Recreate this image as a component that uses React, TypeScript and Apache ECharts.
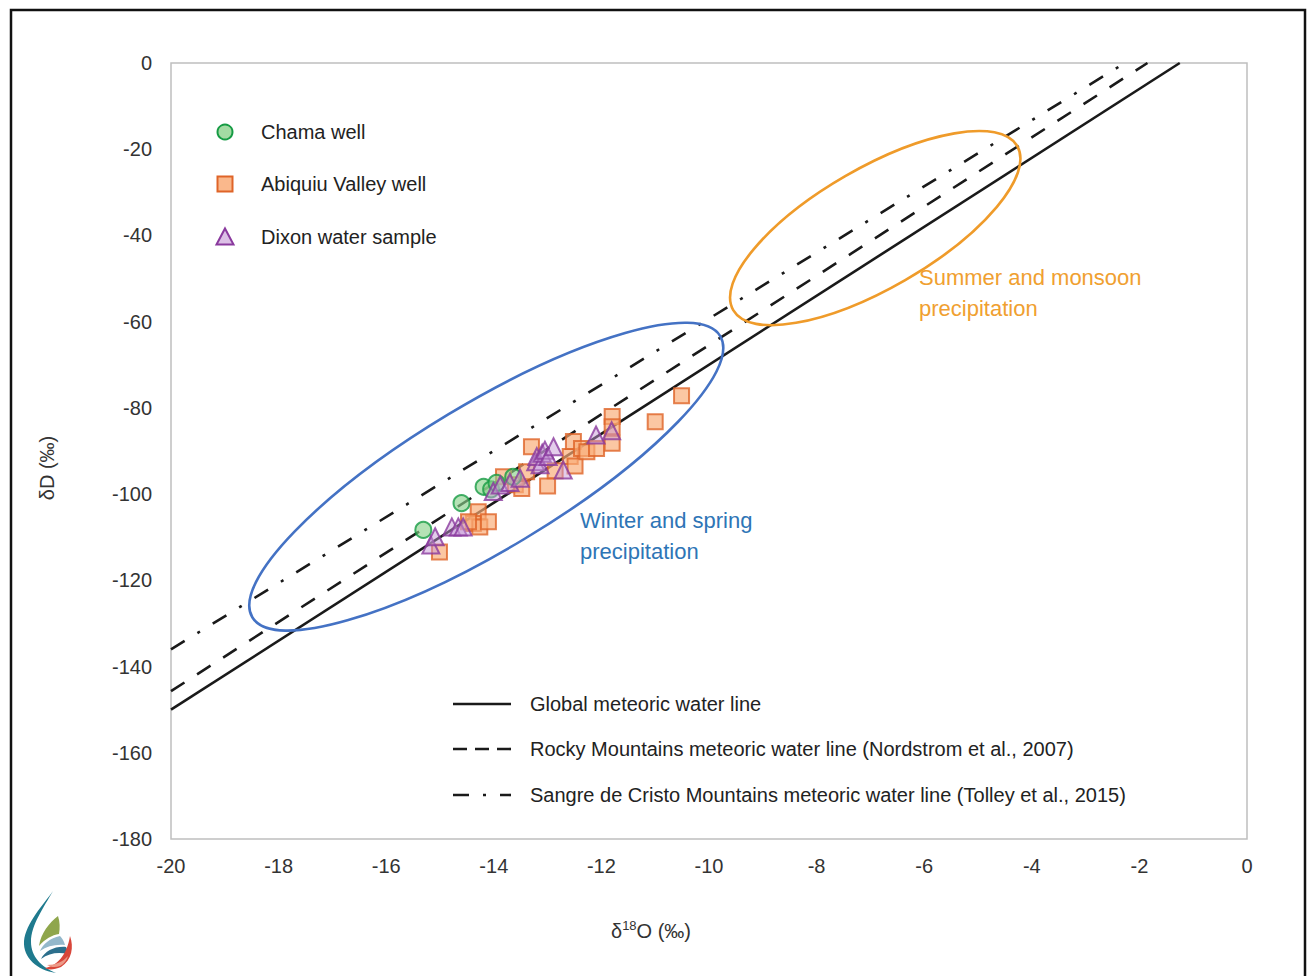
import React, { useEffect, useRef } from 'react';
import * as echarts from 'echarts';

// ---- data (δ18O, δD in ‰) ----
const chamaWell: number[][] = [
  [-15.31, -108.3], [-14.6, -102.1], [-14.19, -98.3], [-14.05, -98.9], [-13.95, -97.4], [-13.64, -96.0],
];
const abiquiuWell: number[][] = [
  [-15.01, -113.4], [-14.29, -104.1], [-14.38, -106.8], [-14.26, -107.6], [-14.1, -106.4], [-14.47, -106.4],
  [-13.82, -96.0], [-13.6, -97.8], [-13.48, -98.7], [-13.39, -94.8], [-13.3, -89.0], [-13.0, -98.1],
  [-12.86, -94.6], [-12.58, -91.3], [-12.52, -87.8], [-12.49, -93.5], [-12.37, -89.4], [-12.27, -90.2],
  [-12.09, -89.4], [-11.8, -82.0], [-11.8, -84.4], [-11.8, -88.2], [-11.0, -83.2], [-10.51, -77.2],
];
const dixonSample: number[][] = [
  [-15.17, -111.8], [-15.09, -109.9], [-14.78, -107.6], [-14.66, -107.6], [-14.57, -107.6],
  [-14.01, -99.4], [-13.88, -97.9], [-13.7, -97.3], [-13.51, -96.3],
  [-13.22, -92.5], [-13.2, -91.3], [-13.14, -93.2], [-13.1, -90.5], [-13.05, -89.8], [-12.99, -91.3],
  [-12.89, -89.0], [-12.71, -94.4], [-12.1, -86.3], [-11.81, -85.3],
];
// meteoric water lines (end points)
const globalMWL: number[][] = [[-20, -150], [-1.25, 0]];
const rockyMWL: number[][] = [[-20, -145.7], [-1.85, 0]];
const sangreMWL: number[][] = [[-20, -136.0], [-2.27, 0]];

const seriesNames = ['Chama well', 'Abiquiu Valley well', 'Dixon water sample'];
const lineNames = [
  'Global meteoric water line',
  'Rocky Mountains meteoric water line (Nordstrom et al., 2007)',
  'Sangre de Cristo Mountains meteoric water line (Tolley et al., 2015)',
];
const xRange = [-20, 0, 2];
const yRange = [-180, 0, 20];
// ellipse centres in data coordinates
const winterCentre = [-14.14, -95.96];
const summerCentre = [-6.91, -38.3];

const FONT = '"Liberation Sans", Arial, sans-serif';
const GREEN_FILL = 'rgba(140,210,140,0.8)';
const GREEN_LINE = '#169B44';
const ORANGE_FILL = 'rgba(249,172,120,0.85)';
const ORANGE_LINE = '#DF6428';
const PURPLE_FILL = 'rgba(196,150,214,0.6)';
const PURPLE_LINE = '#8A3A9E';

echarts.graphic.registerShape(
  'logoTeal',
  echarts.graphic.extendPath(
    'M34,2 C24,16 7,34 5,52 C4,69 18,81 37,84 C22,78 12,67 12,53 C12,36 25,18 34,2 Z',
    {}
  )
);
echarts.graphic.registerShape(
  'logoGreen',
  echarts.graphic.extendPath('M39,27 C30,34 22,44 20,57 C26,50 33,46 40,45 C41,39 41,33 39,27 Z', {})
);
echarts.graphic.registerShape(
  'logoLightBlue',
  echarts.graphic.extendPath('M41,47 C31,49 24,55 21,62 C28,57 37,55 46,56 C45,52 43,49 41,47 Z', {})
);
echarts.graphic.registerShape(
  'logoBlue',
  echarts.graphic.extendPath('M47,58 C36,57 26,62 22,70 C30,64 39,63 49,65 C49,62 48,60 47,58 Z', {})
);
echarts.graphic.registerShape(
  'logoRed',
  echarts.graphic.extendPath('M51,47 C55,58 53,71 42,78 C35,81 29,81 26,79 C38,77 48,66 51,47 Z', {})
);
echarts.graphic.registerShape(
  'logoPink',
  echarts.graphic.extendPath('M49,67 C44,73 36,76 28,76 C31,78 36,79 41,77 C45,75 48,71 49,67 Z', {})
);

export default function App() {
  const ref = useRef<HTMLDivElement>(null);

  useEffect(() => {
    if (!ref.current) return;
    const chart = echarts.init(ref.current, undefined, { renderer: 'svg' });
    const lineBase = { type: 'line', showSymbol: false, symbol: 'none', silent: true, z: 2 };
    chart.setOption({
      animation: false,
      backgroundColor: '#ffffff',
      grid: {
        left: 171, top: 63, width: 1076, height: 776,
        show: true, borderColor: '#BFBFBF', borderWidth: 1.5, backgroundColor: 'transparent',
      },
      xAxis: {
        type: 'value', min: xRange[0], max: xRange[1], interval: xRange[2],
        axisLine: { show: false }, axisTick: { show: false }, splitLine: { show: false },
        axisLabel: { color: '#333', fontSize: 20, fontFamily: FONT, margin: 17 },
        name: '{n|δ}{s|18}{n|O (‰)}',
        nameLocation: 'middle', nameGap: 80,
        nameTextStyle: {
          padding: [0, 116, 0, 0],
          rich: {
            n: { fontSize: 20, fontFamily: FONT, color: '#333', lineHeight: 24 },
            s: { fontSize: 13, fontFamily: FONT, color: '#333', verticalAlign: 'top', lineHeight: 24, padding: [0, 0, 8, 0] },
          },
        },
      },
      yAxis: {
        type: 'value', min: yRange[0], max: yRange[1], interval: yRange[2],
        axisLine: { show: false }, axisTick: { show: false }, splitLine: { show: false },
        axisLabel: { color: '#333', fontSize: 20, fontFamily: FONT, margin: 19 },
        name: 'δD (‰)', nameLocation: 'middle', nameRotate: 90, nameGap: 114,
        nameTextStyle: { fontSize: 20, fontFamily: FONT, color: '#333', padding: [0, 34, 0, 0] },
      },
      series: [
        { ...lineBase, name: lineNames[0], data: globalMWL, lineStyle: { color: '#1a1a1a', width: 2.6, type: 'solid' } },
        { ...lineBase, name: lineNames[1], data: rockyMWL, lineStyle: { color: '#1a1a1a', width: 2.6, type: [16, 15], cap: 'butt' } },
        { ...lineBase, name: lineNames[2], data: sangreMWL, lineStyle: { color: '#1a1a1a', width: 2.6, type: [16, 15, 3, 15], cap: 'butt' } },
        {
          type: 'scatter', name: seriesNames[1], data: abiquiuWell, symbol: 'rect', symbolSize: 15, z: 3,
          itemStyle: { color: ORANGE_FILL, borderColor: ORANGE_LINE, borderWidth: 2 },
        },
        {
          type: 'scatter', name: seriesNames[0], data: chamaWell, symbol: 'circle', symbolSize: 16, z: 4,
          itemStyle: { color: GREEN_FILL, borderColor: GREEN_LINE, borderWidth: 2 },
        },
        {
          type: 'scatter', name: seriesNames[2], data: dixonSample, symbol: 'triangle', symbolSize: 17, z: 5,
          itemStyle: { color: PURPLE_FILL, borderColor: PURPLE_LINE, borderWidth: 2 },
        },
      ],
    });

    const wc = chart.convertToPixel({ gridIndex: 0 }, winterCentre) as number[];
    const sc = chart.convertToPixel({ gridIndex: 0 }, summerCentre) as number[];
    const textStyle = { fontSize: 20, fontFamily: FONT, fill: '#222', verticalAlign: 'middle' };
    const legendY = [132, 184, 237];
    const lineLegendY = [704, 749, 795];
    const graphics: any[] = [
      // outer frame
      { type: 'rect', shape: { x: 11, y: 10, width: 1294, height: 1000 }, style: { fill: 'none', stroke: '#111', lineWidth: 2.5 }, z: 1, silent: true },
      // ellipses
      {
        type: 'ellipse', x: wc[0], y: wc[1], rotation: (31 * Math.PI) / 180,
        shape: { cx: 0, cy: 0, rx: 273, ry: 73 }, style: { fill: 'none', stroke: '#4472C4', lineWidth: 2.6 }, z: 10, silent: true,
      },
      {
        type: 'ellipse', x: sc[0], y: sc[1], rotation: (30 * Math.PI) / 180,
        shape: { cx: 0, cy: 0, rx: 164, ry: 60 }, style: { fill: 'none', stroke: '#EF9B2A', lineWidth: 2.6 }, z: 10, silent: true,
      },
      // annotations
      { type: 'text', x: 580, y: 505, style: { text: 'Winter and spring\nprecipitation', fontSize: 22, lineHeight: 31, fontFamily: FONT, fill: '#2E75B6' }, z: 10 },
      { type: 'text', x: 919, y: 262, style: { text: 'Summer and monsoon\nprecipitation', fontSize: 22, lineHeight: 31, fontFamily: FONT, fill: '#F0A030' }, z: 10 },
      // symbol legend
      { type: 'circle', shape: { cx: 225, cy: legendY[0], r: 7.5 }, style: { fill: GREEN_FILL, stroke: GREEN_LINE, lineWidth: 2 }, z: 10 },
      { type: 'rect', shape: { x: 217.5, y: legendY[1] - 7.5, width: 15, height: 15 }, style: { fill: ORANGE_FILL, stroke: ORANGE_LINE, lineWidth: 2 }, z: 10 },
      {
        type: 'polygon', shape: { points: [[225, legendY[2] - 8.5], [233.5, legendY[2] + 7.5], [216.5, legendY[2] + 7.5]] },
        style: { fill: PURPLE_FILL, stroke: PURPLE_LINE, lineWidth: 2 }, z: 10,
      },
      ...seriesNames.map((n, i) => ({ type: 'text', x: 261, y: legendY[i], style: { ...textStyle, text: n }, z: 10 })),
      // line legend
      { type: 'line', shape: { x1: 453, y1: lineLegendY[0], x2: 511, y2: lineLegendY[0] }, style: { stroke: '#1a1a1a', lineWidth: 2.6 }, z: 10 },
      { type: 'line', shape: { x1: 453, y1: lineLegendY[1], x2: 511, y2: lineLegendY[1] }, style: { stroke: '#1a1a1a', lineWidth: 2.6, lineDash: [14, 8], lineCap: 'butt' }, z: 10 },
      { type: 'line', shape: { x1: 453, y1: lineLegendY[2], x2: 511, y2: lineLegendY[2] }, style: { stroke: '#1a1a1a', lineWidth: 2.6, lineDash: [16, 14, 3, 14], lineCap: 'butt' }, z: 10 },
      ...lineNames.map((n, i) => ({ type: 'text', x: 530, y: lineLegendY[i], style: { ...textStyle, text: n }, z: 10 })),
      // logo
      {
        type: 'group', x: 19, y: 889, z: 10, silent: true,
        children: [
          { type: 'logoTeal', style: { fill: '#1F7A8E' } },
          { type: 'logoGreen', style: { fill: '#8FA64C' } },
          { type: 'logoLightBlue', style: { fill: '#94B8CB' } },
          { type: 'logoBlue', style: { fill: '#2C6F8C' } },
          { type: 'logoRed', style: { fill: '#D8463A' } },
          { type: 'logoPink', style: { fill: '#EC9A88' } },
        ],
      },
    ];
    chart.setOption({ graphic: graphics });

    return () => chart.dispose();
  }, []);

  return (
    <div
      ref={ref}
      style={{ position: 'absolute', left: 0, top: 0, width: 1308, height: 976, background: '#fff' }}
    />
  );
}
